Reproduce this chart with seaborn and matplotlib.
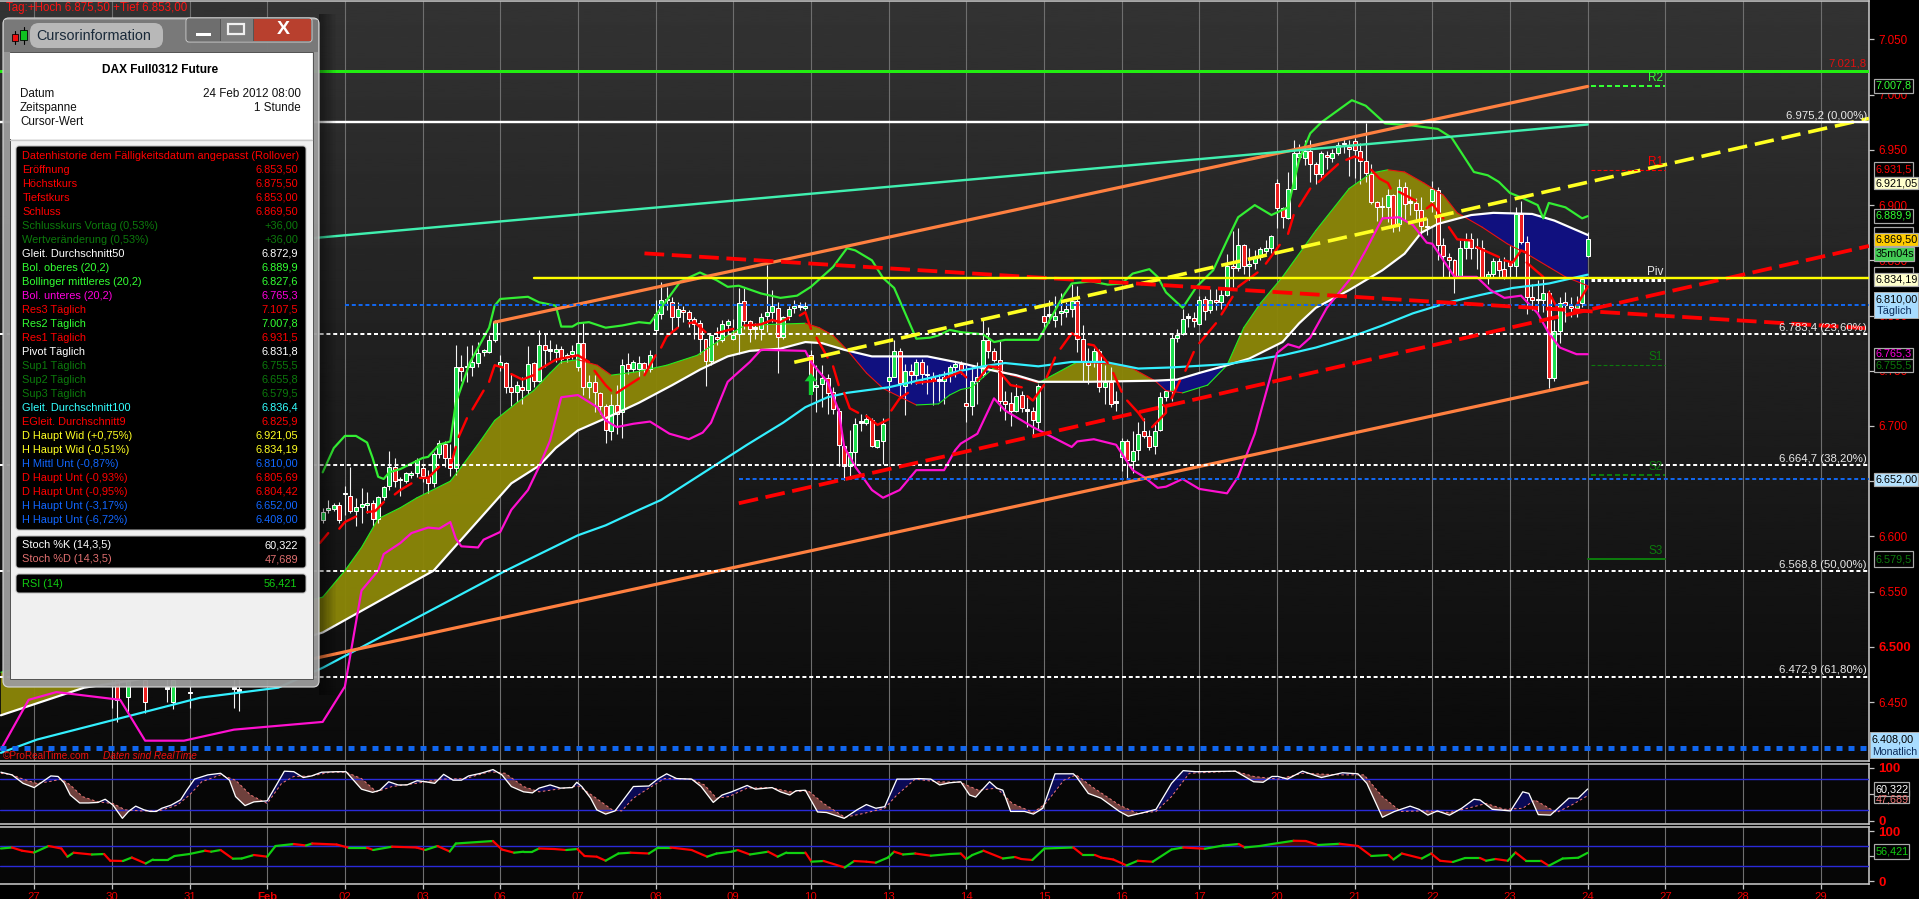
import numpy as np
import pandas as pd
import seaborn as sns
import matplotlib
matplotlib.use("Agg")
import matplotlib.pyplot as plt
from matplotlib.collections import LineCollection
from matplotlib.patches import Rectangle, FancyBboxPatch
from matplotlib.ticker import FixedLocator, FixedFormatter

# ---------- candles: bars 52 .. 280 (14 bars per day) ----------
opens = [6615,6624,6625,6628,6638,6637,6623,6627,6628,6630, 6616,6636,6646,6663,6651,6650,6656,6657,6662,6654,
 6648,6675,6684,6671,6662,6753,6753,6753,6757,6767, 6767,6778,6754,6757,6735,6731,6735,6733,6757,6741,
 6773,6768,6767,6770,6762,6765,6753,6775,6735,6740, 6730,6718,6695,6719,6713,6756,6752,6752,6757,6752,
 6787,6801,6814,6812,6799,6805,6803,6797,6793,6779, 6759,6781,6778,6791,6779,6783,6813,6795,6788,6788,
 6800,6803,6807,6781,6800,6807,6808,6807,6764,6735, 6738,6743,6731,6714,6682,6664,6676,6703,6703,6705,
 6681,6686,6741,6744,6768,6736,6750,6746,6758,6746, 6744,6741,6741,6746,6753,6756,6721,6718,6741,6747,
 6778,6768,6760,6723,6721,6714,6728,6714,6714,6704, 6800,6800,6796,6802,6803,6806,6813,6779,6759,6759,
 6768,6735,6740,6721,6672,6686,6668,6678,6695,6691, 6682,6696,6726,6732,6780,6783,6798,6798,6792,6815,
 6805,6814,6812,6819,6845,6843,6864,6845,6848,6853, 6858,6861,6920,6897,6888,6915,6944,6943,6949,6937,
 6928,6945,6943,6947,6955,6953,6958,6949,6940,6928, 6903,6898,6898,6909,6883,6916,6902,6902,6896,6880,
 6904,6914,6864,6853,6850,6835,6861,6869,6862,6861, 6834,6838,6849,6842,6849,6845,6892,6867,6817,6814,
 6814,6820,6743,6786,6812,6809,6807,6811,6853.5]
highs = [6626,6633,6630,6631,6646,6663,6635,6644,6640,6633, 6637,6646,6677,6671,6654,6658,6659,6671,6665,6660,
 6676,6687,6686,6684,6773,6764,6772,6773,6776,6770, 6782,6796,6764,6758,6747,6741,6744,6772,6758,6787,
 6784,6778,6774,6772,6766,6773,6784,6793,6746,6746, 6731,6720,6729,6737,6761,6766,6760,6763,6758,6769,
 6814,6830,6826,6817,6812,6809,6805,6799,6796,6779, 6782,6790,6796,6797,6797,6825,6825,6796,6793,6802,
 6846,6823,6812,6800,6809,6814,6812,6812,6769,6755, 6755,6747,6735,6716,6682,6696,6707,6711,6711,6707,
 6687,6707,6764,6778,6771,6756,6756,6761,6761,6755, 6749,6747,6750,6755,6758,6759,6755,6753,6758,6796,
 6790,6771,6777,6732,6731,6738,6732,6726,6717,6738, 6809,6814,6818,6820,6812,6829,6827,6791,6771,6771,
 6770,6755,6753,6732,6689,6688,6695,6704,6707,6696, 6704,6731,6732,6784,6788,6806,6802,6803,6818,6818,
 6824,6824,6826,6856,6877,6879,6865,6861,6859,6862, 6868,6873,6924,6898,6930,6959,6955,6959,6959,6939,
 6949,6949,6951,6957,6960,6959,6961,6956,6974,6937, 6904,6907,6915,6910,6924,6921,6915,6906,6907,6888,
 6922,6916,6870,6857,6851,6868,6875,6875,6870,6868, 6840,6852,6852,6853,6863,6898,6904,6872,6829,6832,
 6833,6823,6796,6817,6821,6817,6818,6836,6875.5]
lows = [6612,6621,6623,6612,6619,6621,6609,6612,6621,6609, 6612,6633,6642,6645,6637,6648,6653,6654,6649,6639,
 6645,6671,6663,6655,6656,6741,6740,6745,6753,6763, 6766,6776,6750,6730,6718,6722,6720,6729,6735,6740,
 6753,6760,6758,6757,6758,6761,6750,6728,6725,6713, 6711,6685,6687,6693,6689,6747,6749,6745,6746,6749,
 6783,6797,6805,6785,6790,6794,6790,6779,6765,6736, 6755,6773,6776,6784,6778,6765,6788,6776,6779,6778,
 6785,6794,6748,6779,6796,6802,6805,6805,6729,6713, 6717,6711,6711,6664,6651,6654,6664,6695,6701,6681,
 6680,6666,6731,6744,6726,6710,6738,6738,6738,6729, 6719,6723,6720,6740,6744,6747,6704,6710,6720,6744,
 6762,6758,6714,6705,6700,6713,6713,6699,6692,6696, 6787,6793,6790,6791,6799,6799,6767,6741,6738,6753,
 6731,6720,6717,6714,6659,6652,6657,6669,6689,6678, 6675,6695,6723,6723,6776,6782,6790,6790,6791,6796,
 6802,6805,6806,6818,6826,6840,6838,6832,6842,6850, 6856,6857,6879,6879,6887,6915,6940,6936,6921,6919,
 6925,6933,6939,6945,6947,6926,6925,6919,6921,6901, 6886,6888,6885,6876,6877,6886,6891,6886,6873,6873,
 6894,6850,6835,6835,6820,6835,6851,6851,6842,6834, 6829,6835,6835,6833,6835,6835,6865,6801,6805,6803,
 6803,6734,6741,6775,6794,6799,6799,6808,6853]
closes = [6622,6625,6628,6615,6639,6623,6627,6629,6630,6616, 6636,6645,6663,6650,6651,6657,6657,6669,6655,6648,
 6675,6685,6671,6662,6753,6750,6753,6758,6766,6768, 6778,6794,6758,6735,6731,6737,6733,6756,6741,6773,
 6769,6768,6770,6761,6764,6768,6775,6735,6740,6731, 6718,6696,6719,6711,6755,6752,6758,6757,6752,6764,
 6801,6814,6814,6799,6806,6803,6797,6792,6779,6759, 6782,6779,6792,6795,6782,6811,6795,6788,6788,6799,
 6803,6809,6781,6799,6806,6809,6808,6809,6732,6737, 6743,6730,6715,6683,6664,6676,6702,6703,6706,6682,
 6687,6702,6744,6768,6739,6750,6746,6758,6747,6746, 6741,6741,6744,6753,6756,6751,6718,6741,6744,6778,
 6768,6760,6723,6720,6714,6727,6716,6714,6705,6736, 6794,6800,6800,6804,6806,6813,6779,6759,6755,6768,
 6735,6740,6720,6721,6686,6669,6677,6693,6691,6681, 6695,6726,6732,6780,6782,6797,6798,6795,6814,6804,
 6814,6812,6819,6845,6843,6864,6845,6847,6853,6860, 6861,6872,6897,6889,6915,6947,6947,6949,6937,6928,
 6947,6944,6947,6954,6955,6951,6950,6940,6929,6903, 6898,6898,6909,6882,6916,6901,6902,6896,6881,6880,
 6915,6864,6854,6850,6835,6861,6868,6861,6861,6835, 6838,6849,6841,6834,6845,6892,6867,6817,6814,6814,
 6820,6743,6786,6811,6810,6807,6810,6833,6869.5]
# a few bars seen under the lower edge of the window
early_bar = [14,15,17,20,24,25,28,36,37]
early_open = [6466,6470,6455,6470,6462,6450,6458,6462,6460]
early_high = [6480,6480,6476,6478,6478,6473,6470,6480,6482]
early_low = [6445,6432,6440,6440,6450,6444,6445,6445,6442]
early_close = [6466,6452,6472,6450,6462,6470,6458,6462,6460]

# ---------- indicators (bar, price) ----------
sma50_x = [-6,9,30,52,72,86,91,94,98,103,109,115,120,125,129,134.5,139,142,146,151,161,167,173,177,181,188,190,202,206,210,215,219,225,228,231,237,243,247,250,253,259,263,270,274,280]
sma50_y = [6438,6463,6479,6513,6569,6648,6664,6680,6696,6707,6721,6737,6751,6763,6768,6770,6776,6775,6769,6763,6763,6757,6750,6746,6740,6740,6740,6741,6742,6748,6755,6761,6776,6793,6807,6823,6841,6856,6875,6883,6891,6893,6892,6886,6873]
sma100_x = [-6,0.5,30,44,52,85,98,103,109,113,122,128.5,135,139,143,146.5,154,161,167,171,175,181,187,193,199,205,215,225,231,237,243,248.5,255,261,266.5,273,280]
sma100_y = [6404,6416,6454,6463,6481,6569,6601,6610,6624,6633,6662,6683,6703,6717,6726,6730,6735,6743,6750,6754,6757,6754,6758,6758,6752,6753,6756,6764,6771,6780,6791,6802,6812,6819,6825,6829,6837]
boll_up_x = [52,54,56,58,60,61,62,63,64,66,68,70,71,73,75,76,78.5,82,83,84,89,91,94,95,97,98,100,103,106,109,111,113,116.5,120,123,125,127,131,134.5,137.5,140,144,146.5,148,151,153,155,157,159,161.5,163,165,167,171,173,175,181,182.5,185.5,187,190.5,193.5,196,198,201,202.5,204,207,209.5,212.5,215,217,220,223,226,228,230,232,237.5,240,243.5,248.5,253,255.5,259.5,262,264,266,268,271,272,273,276,279,280]
boll_up_y = [6658,6680,6691,6691,6685,6671,6654,6652,6658,6661,6666,6671,6672,6683,6686,6721,6757,6789,6809,6815,6817,6812,6809,6790,6790,6793,6794,6789,6791,6794,6793,6807,6831,6839,6832,6826,6827,6820,6816,6818,6826,6844,6861,6859,6850,6834,6825,6802,6779,6780,6782,6787,6785,6783,6776,6778,6778,6791,6818,6829,6831,6828,6829,6838,6842,6835,6821,6807,6826,6841,6868,6889,6900,6891,6898,6941,6965,6975,6995,6990,6974,6972,6969,6961,6930,6927,6921,6911,6907,6900,6888,6902,6898,6888,6890]
boll_lo_x = [-6,-1,4,15.5,20,27,36,52,56,59,62,63,66,68,71,73,75,76,77,80,81,84,86,89,91,93,95,98,101.5,103,105,108,111,114.5,118,120.5,122,125,129,131,139,140,143,145,146,148,151,153,156,159,164,166,167,170,173,175,180,187,188,191,195,198,200,202.5,204,207,210,215,217,220,224,226,228,230,233,237,240,243,246,248.5,251,252,256,260,262.5,265,268,271,273,275,278,280]
boll_lo_y = [6407,6452,6459,6452,6415,6415,6425,6432,6464,6551,6569,6584,6594,6603,6608,6607,6613,6598,6591,6590,6597,6604,6624,6642,6663,6687,6726,6728,6717,6705,6699,6702,6704,6693,6688,6694,6703,6740,6758,6769,6768,6758,6740,6714,6681,6663,6642,6635,6642,6660,6660,6678,6684,6693,6725,6714,6699,6681,6686,6688,6683,6660,6654,6644,6645,6652,6643,6639,6654,6693,6766,6774,6771,6780,6807,6832,6859,6888,6889,6882,6866,6865,6835,6835,6823,6816,6818,6802,6784,6771,6765,6765]
boll_mid_x = [-6,52,56,59,62,66,69,75,77,80.5,83,87,90,93,95,98,101.5,104,108.5,114,119.5,124,128,133,139,141.5,144,146.5,150,153,159,163,165,167,169,171,173,176,181,188,194.5,198,202,204,207,211.5,215,218,221,225,231,237,241,244,247,250.5,254,256.5,261,265.5,269,273,276,280]
boll_mid_y = [6477,6545,6569,6590,6616,6626,6635,6650,6663,6687,6705,6721,6732,6748,6758,6760,6755,6746,6749,6755,6764,6779,6791,6792,6793,6789,6782,6769,6748,6734,6719,6720,6728,6733,6735,6744,6753,6746,6739,6758,6756,6752,6741,6732,6730,6737,6755,6789,6811,6835,6877,6915,6929,6932,6930,6920,6909,6893,6880,6865,6856,6844,6835,6827]
ema_x = [[51.5,53],[55,56,58],[60,61.5,63],[65,66,68],[69.5,71,73],[75,76],[76.5,78],[79,81],[82,83,84.5],[86,88,90],[91,94,98,100],[101,103,104],[105,109],[110,112],[113,114,116],[118,119,121],[123,126],[128,131,133,134.5,136],[138,139,140],[141,143],[144,145],[146,147,148.5],[150,152,154],[154.5,156,157.5],[159,162.5],[164,167,168],[170,172,174],[174,176,178],[179,180,181,182],[182.5,184],[185,187,188.5],[190,191,193.5],[194.5,196],[197,199,200],[201.5,204,204,203.5],[205,206.5],[207.5,209],[210,213],[214,216],[217,220.5],[222,224.5],[226,227],[228,230],[231.5,235],[236.5,238,239.5],[241,242.5,244,244.5],[246,249],[251,252,254],[255,256.5,259],[260,264],[265,266.5,268,269],[269,272],[273,274.5],[278,280]]
ema_y = [[6594,6603],[6607,6613,6618],[6622,6623,6631],[6638,6642,6648],[6653,6653,6663],[6663,6681],[6690,6707],[6715,6732],[6740,6755,6753],[6747,6742,6746],[6751,6760,6764,6758],[6750,6737,6732],[6730,6743],[6746,6764],[6771,6781,6789],[6793,6794,6785],[6784,6788],[6791,6792,6796,6794,6798],[6800,6803,6788],[6780,6762],[6754,6737],[6730,6716,6712],[6709,6701,6706],[6714,6725,6730],[6739,6741],[6743,6749,6744],[6741,6754,6753],[6749,6737,6735],[6727,6723,6730,6737],[6744,6762],[6770,6784,6780],[6774,6773,6757],[6748,6731],[6723,6712,6705],[6699,6712,6717,6719],[6725,6741],[6750,6767],[6775,6793],[6801,6817],[6826,6839],[6847,6864],[6874,6891],[6899,6915],[6921,6937],[6941,6944,6941],[6932,6924,6920,6915],[6912,6904],[6897,6901,6888],[6880,6869,6868],[6862,6853],[6850,6848,6859,6857],[6848,6835],[6821,6807],[6809,6826]]

stoch_k_x = [-6,-4,-2,0,1.5,3,4.3,5.4,6.5,8.2,9.8,11.5,12.8,14.2,15.9,17,18.3,19.8,20.9,22,23,24.7,26.4,27.5,28.9,31.3,33.6,35.2,36.3,38,39.6,42,43.5,45.1,46.8,48.5,50,51.8,54.5,56.2,57.3,59,61,62.3,63.9,65.6,67.2,69,70.5,72.2,73.8,75.5,77,78.3,80.5,82.7,84.3,86,88.2,89.8,91,93,94.8,97,97.8,98.7,100.3,101.4,103,104.7,108,110.8,112.5,114,115.8,118.5,120.2,122.4,124,125.7,128.5,130,133,134.5,136.2,137.3,139,141.2,142.8,146,148.3,150,151.7,153.3,155.5,157.7,159.4,161.6,163.2,165,167,168.6,169.7,170.8,172.2,173.5,174.6,176,178.5,180.1,181.8,184,187.3,187.8,190,192.3,195.6,197.2,200,202.2,205,207.1,209.4,216.5,219.8,221.5,223.1,224.2,225.9,228.6,232,235.8,238.6,240.2,243,245.2,248,249.6,251.2,252.9,255.1,257.3,259.5,260.6,262.8,266.1,268.3,269.4,271.1,273.3,276.6,278.3,280]
stoch_k_y = [92,87,71,63,74,85,84,72,49,34,34,35,41,30,5,18,28,21,18,18,24,30,40,58,79,87,90,77,46,29,36,38,65,94,93,82,85,92,93,93,80,60,54,58,74,68,68,76,74,71,88,77,77,85,90,97,87,65,55,53,62,68,62,63,73,65,43,21,13,19,65,66,80,89,80,79,65,35,49,55,67,60,63,55,49,57,58,17,16,5,21,31,24,27,79,79,80,79,68,72,74,49,45,58,74,62,58,18,18,13,24,89,89,84,52,43,18,9,16,22,71,95,93,94,74,73,84,84,79,94,82,91,89,71,7,18,28,22,11,19,11,24,41,39.6,22,19,55,52,12,11,43,43,60.3]
stoch_d_x = [-6,-4,-2,0.4,2.6,4.9,6.5,8.7,11.5,14.2,16.4,19.2,22.5,25.8,28,30.2,33.6,36.3,39,42,44.6,46.8,50,53.4,56.2,59,61.7,64.5,68.9,73.3,77.7,82.1,84.9,88.2,91,94.3,98.1,100.9,104.2,105.9,108,110.8,113.6,118.5,120.8,123,125.2,128.5,132.9,136.2,139.5,142.3,146.1,149.4,153.3,155.5,158.8,162.7,166.9,170.2,173.5,176.3,180.1,182.3,185.6,187.8,190.6,195.6,198.9,202.2,205,208.2,216.5,219.8,224.2,228.6,235.3,239.7,243,246.3,250.7,255.1,258.4,261.7,265,268.3,270.5,274.4,277.1,280]
stoch_d_y = [90,87,79,71,74,79,68,46,36,33,21,19,19,30,49,74,87,77,49,33,71,84,85,92,92,80,55,65,71,79,80,93,90,65,55,60,66,46,21,19,43,62,80,79,68,43,46,62,63,55,57,33,7,14,24,49,79,74,73,58,62,33,16,33,77,87,65,30,14,18,46,90,94,84,79,90,87,87,46,18,19,16,24,33,22,24,39.6,16,30,47.7]
rsi_x = [-6,-4,-2.2,0,2.6,4.9,6,7.1,10.4,12.6,13.7,16,17.6,20.1,21.4,24.2,25.3,28,30.8,31.9,33.6,35.8,37.4,39.6,42,43.5,46.8,49,50.1,54.5,56.7,60,61.1,64.5,68.9,70.5,72.7,74.9,76,82.7,84.3,86.5,88.2,89.8,91,93.7,95.9,97.9,99.2,101.4,103,105.3,107.5,110.8,112.5,114.7,118.5,121.3,123,125.7,126.8,129,132.3,134,135.6,139,140.1,142.3,146.1,147.8,150,151.7,153.9,155,156.6,158.8,161.6,165,167,168,169.1,171.1,174.6,176.8,177.9,179.9,182.1,187.3,189,191.2,192.3,194.5,196.9,198.9,201.6,205,207.1,211,214.3,217.1,218.2,220.9,223.1,227,229.2,231.4,235.3,238.6,241,244.1,245,246.5,250.1,251.8,253.4,255.7,257.9,260.6,261.7,263.4,265.6,267,268.9,271.6,273,275.5,278.3,280]
rsi_y = [65,67,60.6,57,70,65,48.6,56.6,53,54,40.6,40,47,35,43,43,50,54,60.6,58.6,62,44.6,45,52,48.6,70,74,71,75,73,66.6,66.6,62,68.6,67,62,70,59,75,80,63,56.6,58.6,58.6,65,64,62,64,50,48.6,40.6,55,56.6,55,67,67,62,48.6,55,58.6,62,53,58.6,48.6,57,57,38.6,40,27,40,38.6,36.6,47,58.6,53,55,50.6,54,55,44,52,60.6,45,48,44,42,65,67,52,52,47,43,31,40.5,38.5,63,67,64.5,71,74,67,70,74,80.5,80,72,74.5,70,50,52,43,55,45,55,40.5,38,46,46,40.5,44,40.5,57,40.5,40.5,30.5,45,46.5,56.4]

# ---------- levels ----------
day_labels = ["27","30","31","Feb","02","03","06","07","08","09","10","13","14","15","16","17","20","21","22","23","24","27","28","29"]
price_ticks = [6450,6500,6550,6600,6650,6700,6750,6800,6850,6900,6950,7000,7050]
price_tick_labels = ["6.450","6.500","6.550","6.600","6.650","6.700","6.750","6.800","6.850","6.900","6.950","7.000","7.050"]
fib_levels = [6975.2,6783.4,6664.7,6568.8,6472.9]
fib_labels = ["6.975,2 (0,00%)","6.783,4 (23,60%)","6.664,7 (38,20%)","6.568,8 (50,00%)","6.472,9 (61,80%)"]
pivot_names = ["R2","R1","Piv","S1","S2","S3"]
pivot_levels = [7007.8,6931.5,6831.8,6755.5,6655.8,6579.5]
pivot_colors = ["#33ff33","#ff0000","#ffffff","#0c7a0c","#0c7a0c","#0c7a0c"]
orange_up_x, orange_up_y = [83,280],[6794,7007.5]
orange_lo_x, orange_lo_y = [40,280],[6478,6739.6]
teal_x, teal_y = [50,280],[6870,6973]
yellow_x, yellow_y = [137,330.7],[6757.7,6978.5]
red_up_x, red_up_y = [127,330.7],[6630,6863]
red_dn_x, red_dn_y = [110,330.3],[6856.3,6788.5]

info_labels = ["Datenhistorie dem Fälligkeitsdatum angepasst (Rollover)","Eröffnung","Höchstkurs","Tiefstkurs","Schluss","Schlusskurs Vortag (0,53%)","Wertveränderung (0,53%)","Gleit. Durchschnitt50","Bol. oberes (20,2)","Bollinger mittleres (20,2)","Bol. unteres (20,2)","Res3 Täglich","Res2 Täglich","Res1 Täglich","Pivot Täglich","Sup1 Täglich","Sup2 Täglich","Sup3 Täglich","Gleit. Durchschnitt100","EGleit. Durchschnitt9","D Haupt Wid (+0,75%)","H Haupt Wid (-0,51%)","H Mittl Unt (-0,87%)","D Haupt Unt (-0,93%)","D Haupt Unt (-0,95%)","H Haupt Unt (-3,17%)","H Haupt Unt (-6,72%)"]
info_values = ["","6.853,50","6.875,50","6.853,00","6.869,50","+36,00","+36,00","6.872,9","6.889,9","6.827,6","6.765,3","7.107,5","7.007,8","6.931,5","6.831,8","6.755,5","6.655,8","6.579,5","6.836,4","6.825,9","6.921,05","6.834,19","6.810,00","6.805,69","6.804,42","6.652,00","6.408,00"]
R,DG,W,LG,M,C,Y,B = "#ff0000","#0c7a0c","#ffffff","#33ff33","#ff00dd","#33ffff","#ffff22","#1166ff"
info_colors = [R,R,R,R,R,DG,DG,W,LG,LG,M,R,LG,R,W,DG,DG,DG,C,R,Y,Y,B,R,R,B,B]

# ---------- figure ----------
sns.set_theme(style="dark", rc={"axes.facecolor":"#060606","figure.facecolor":"#000000"})
plt.rcParams["font.family"] = ["Liberation Sans","DejaVu Sans"]
W_PX, H_PX = 1919, 899
fig = plt.figure(figsize=(W_PX/100, H_PX/100), dpi=100)
def panel(top, bottom):
    return fig.add_axes([0, 1-bottom/H_PX, 1869/W_PX, (bottom-top)/H_PX])
ax = panel(0.5, 761)
ax_s = panel(764, 824)
ax_r = panel(827, 883.7)
XMIN, XMAX = -6.16, 330.71
px = 0.72  # one pixel in points

def line(a, x, y, color, lw_px, z=5, **kw):
    sns.lineplot(x=np.asarray(x,float), y=np.asarray(y,float), ax=a, color=color, linewidth=lw_px*px,
                 sort=False, estimator=None, errorbar=None, legend=False, zorder=z, **kw)

def slope_line(a, x, y, up, down, lw_px, z=5):
    x, y = np.asarray(x,float), np.asarray(y,float)
    segs = np.stack([np.column_stack([x[:-1],y[:-1]]), np.column_stack([x[1:],y[1:]])], axis=1)
    cols = [up if d >= 0 else down for d in np.diff(y)]
    a.add_collection(LineCollection(segs, colors=cols, linewidths=lw_px*px, zorder=z, capstyle="round"))

# gradient background
grad = np.linspace(0.2, 0.04, 256).reshape(-1,1)
ax.imshow(grad, aspect="auto", cmap="gray", vmin=0, vmax=1, extent=[XMIN,XMAX,6396.6,7085.3], zorder=0)

# day grid
for a in (ax, ax_s, ax_r):
    for i in range(len(day_labels)):
        a.axvline(14*i, color="#6e6e6e", lw=1.1*px, zorder=1)

# cloud between SMA50 and Bollinger middle
gx = np.unique(np.concatenate([np.linspace(-6,280,1145), sma50_x, boll_mid_x]))
wy, my = np.interp(gx, sma50_x, sma50_y), np.interp(gx, boll_mid_x, boll_mid_y)
ax.fill_between(gx, wy, my, where=my>=wy, interpolate=True, color="#8a8508", lw=0, zorder=2, alpha=.97)
ax.fill_between(gx, wy, my, where=my<wy, interpolate=True, color="#10107f", lw=0, zorder=2)

# candles
bars = np.arange(52, 52+len(opens))
x_all = np.concatenate([early_bar, bars])
o = np.array(list(early_open)+opens,float); h = np.array(list(early_high)+highs,float)
l = np.array(list(early_low)+lows,float); c = np.array(list(early_close)+closes,float)
ax.vlines(x_all, l, h, color="#f4f4f4", lw=1.1*px, zorder=3)
col = np.where(c>o, "#1fe04f", np.where(c<o, "#f02020", "#ffffff"))
ax.bar(x_all, np.maximum(np.abs(c-o),1.4), bottom=np.minimum(o,c), width=.72, color=col,
       edgecolor="#ffffff", linewidth=1.0*px, zorder=4)

# indicators
slope_line(ax, boll_mid_x, boll_mid_y, "#22ee22", "#ee1111", 1.1)
line(ax, sma50_x, sma50_y, "#ffffff", 2.2)
line(ax, sma100_x, sma100_y, "#33f0ff", 2.2)
line(ax, boll_up_x, boll_up_y, "#33ee33", 2.2)
line(ax, boll_lo_x, boll_lo_y, "#ff10d0", 2.2)
for ex, ey in zip(ema_x, ema_y):
    line(ax, ex, ey, "#ff0000", 2.4, z=6)

# trend lines
line(ax, orange_up_x, orange_up_y, "#ff8040", 3.2, z=6)
line(ax, orange_lo_x, orange_lo_y, "#ff8040", 3.2, z=6)
line(ax, teal_x, teal_y, "#40f0b0", 2.4, z=6)
line(ax, yellow_x, yellow_y, "#ffff22", 3.6, z=7, linestyle=(0,(5.4,2.2)))
line(ax, red_up_x, red_up_y, "#ff0000", 3.8, z=7, linestyle=(0,(5.2,2.0)))
line(ax, red_dn_x, red_dn_y, "#ff0000", 3.8, z=7, linestyle=(0,(5.2,2.0)))

# horizontal levels
dots = (0,(2.0,1.4))
line(ax, [XMIN,XMAX],[7021.8,7021.8], "#22ee11", 3, z=7)
line(ax, [XMIN,XMAX],[6975.2,6975.2], "#ffffff", 2.4, z=7)
line(ax, [90,XMAX],[6834.19,6834.19], "#ffff00", 2.4, z=7)
line(ax, [56,XMAX],[6810,6810], "#1166ee", 2, z=6, linestyle=dots)
line(ax, [127,XMAX],[6652,6652], "#1166ee", 2, z=6, linestyle=dots)
line(ax, [XMIN,XMAX],[6408,6408], "#1166ee", 5, z=6, linestyle=(0,(1.2,1.2)))
for lev in fib_levels[1:]:
    line(ax, [XMIN,XMAX],[lev,lev], "#ffffff", 2, z=6, linestyle=dots)
for lev, lab in zip(fib_levels, fib_labels):
    ax.text(XMAX-0.4, lev+1.2, lab, color="#e8e8e8", fontsize=8.2, ha="right", va="bottom", zorder=8)
ax.text(XMAX-0.5, 7023.5, "7.021,8", color="#e01010", fontsize=8.2, ha="right", va="bottom", zorder=8)

# daily pivots
piv_style = [dict(lw_px=2,linestyle=(0,(2.5,1.5))), dict(lw_px=1.1,linestyle=(0,(3.5,2))), dict(lw_px=3,linestyle=(0,(1.2,.8))),
             dict(lw_px=1.1,linestyle=(0,(3.5,2))), dict(lw_px=2,linestyle=(0,(2.5,1.5))), dict(lw_px=2,linestyle="-")]
for name, lev, colr, st in zip(pivot_names, pivot_levels, pivot_colors, piv_style):
    st = dict(st); lw_ = st.pop("lw_px")
    line(ax, [280.6 if name!="S3" else 280, 294],[lev,lev], colr, lw_, z=7, **st)
    ax.text(293.6, lev+1.8, name, color=colr if name!="Piv" else "#e8e8e8", fontsize=8.5, ha="right", va="bottom", zorder=8)

# entry arrow
ax.annotate("", xy=(140,6748), xytext=(140,6728),
            arrowprops=dict(facecolor="#0fd02f", edgecolor="#0fd02f", width=3, headwidth=9, headlength=6, lw=0), zorder=8)

# stochastics
gs = np.unique(np.concatenate([np.linspace(-6,280,1145), stoch_k_x, stoch_d_x]))
ky, dy = np.interp(gs, stoch_k_x, stoch_k_y), np.interp(gs, stoch_d_x, stoch_d_y)
ax_s.fill_between(gs, ky, dy, where=ky>=dy, interpolate=True, color="#0a0a55", lw=0, zorder=2)
ax_s.fill_between(gs, ky, dy, where=ky<dy, interpolate=True, color="#6e403c", lw=0, zorder=2)
for lev in (80,20):
    ax_s.axhline(lev, color="#2a2ad8", lw=1.4*px, zorder=3)
line(ax_s, stoch_d_x, stoch_d_y, "#ee7777", 1, z=4, linestyle=(0,(2.5,2.5)))
line(ax_s, stoch_k_x, stoch_k_y, "#ffffff", 1.3, z=5)

# RSI
gr = np.unique(np.concatenate([np.linspace(-6,280,1145), rsi_x]))
ry = np.interp(gr, rsi_x, rsi_y)
ax_r.fill_between(gr, ry, 70, where=ry>=70, interpolate=True, color="#4a0a08", lw=0, zorder=2)
for lev in (70,30):
    ax_r.axhline(lev, color="#2a2ad8", lw=1.4*px, zorder=3)
slope_line(ax_r, rsi_x, rsi_y, "#10d010", "#ff0000", 2.2, z=5)

# axes set-up
limits = {ax:(6396.6,7085.3), ax_s:(-5.7,107.5), ax_r:(-5.4,108)}
for a,(lo,hi) in limits.items():
    a.set_xlim(XMIN,XMAX); a.set_ylim(lo,hi)
    a.set_xlabel(""); a.set_ylabel("")
    a.grid(False)
    a.yaxis.tick_right()
    for s in a.spines.values():
        s.set_color("#c4c4c4"); s.set_linewidth(1.6*px); s.set_visible(True)
    a.spines["left"].set_visible(False)
    a.tick_params(axis="y", which="both", right=True, length=3.6, width=.9, color="#c4c4c4", labelcolor="#ff0000", pad=3, labelsize=8.4)
    a.tick_params(axis="x", bottom=False, labelbottom=False)
ax.yaxis.set_major_locator(FixedLocator(price_ticks))
ax.yaxis.set_major_formatter(FixedFormatter(price_tick_labels))
for t, s in zip(ax.get_yticklabels(), price_tick_labels):
    if s == "6.500":
        t.set_fontweight("bold"); t.set_fontsize(9.4)
for a, lab in ((ax_s,["0","","100"]),(ax_r,["0","","100"])):
    a.yaxis.set_major_locator(FixedLocator([0,50,100]))
    a.yaxis.set_major_formatter(FixedFormatter(lab))
    for t in a.get_yticklabels():
        t.set_fontweight("bold"); t.set_fontsize(9.6)
ax_r.xaxis.set_major_locator(FixedLocator([14*i for i in range(len(day_labels))]))
ax_r.xaxis.set_major_formatter(FixedFormatter(day_labels))
ax_r.tick_params(axis="x", bottom=True, labelbottom=True, length=3.6, width=.9, color="#c4c4c4", labelcolor="#ee0000", labelsize=8.2, pad=2.5)
for t, s in zip(ax_r.get_xticklabels(), day_labels):
    if s == "Feb":
        t.set_fontweight("bold")

# ---------- overlay in figure pixels ----------
ov = fig.add_axes([0,0,1,1], zorder=20, facecolor="none")
ov.set_xlim(0,W_PX); ov.set_ylim(H_PX,0); ov.axis("off")
def rect(x0,y0,x1,y1,fc,ec="none",lw=0,z=1,alpha=None):
    ov.add_patch(Rectangle((x0,y0),x1-x0,y1-y0,facecolor=fc,edgecolor=ec,linewidth=lw*px,zorder=z,alpha=alpha))
def round_box(x0,y0,x1,y1,fc,ec="none",lw=0,r=3,z=2,alpha=None):
    ov.add_patch(FancyBboxPatch((x0+r,y0+r),x1-x0-2*r,y1-y0-2*r,boxstyle=f"round,pad={r},rounding_size={r}",
                 facecolor=fc,edgecolor=ec,linewidth=lw*px,zorder=z,alpha=alpha))
def txt(x,y,s,color="#000000",fs=8.5,ha="left",z=6,**kw):
    ov.text(x,y,s,color=color,fontsize=fs,ha=ha,va="center",zorder=z,**kw)

txt(6,8,"Tag:+Hoch 6.875,50 +Tief 6.853,00","#ff1414",8.3)
txt(3,756,"©ProRealTime.com",  "#ee1010",7.2)
txt(103,756,"Daten sind RealTime","#ee1010",7.2, style="italic")

# window shadow to the right
for i in range(14):
    rect(319+i*1.2,14,320.2+i*1.2,695,"#000000",alpha=.45*(1-i/14))

# window frame
round_box(3,18,319,687,"#9b9b9b","#d8d8d8",1.2,r=6,alpha=.96)
rect(4,20,318,52,"#6a6a6a",alpha=.65,z=2)
round_box(30,23,163,48,"#c4c4c4",r=9,z=3,alpha=.85)
txt(36,35.5,"Cursorinformation","#1a2a3a",10.4)
rect(12,34,18,41,"#ee1010","#000000",.8,z=4); rect(20,30,27,40,"#10c020","#000000",.8,z=4)
ov.plot([23.5,23.5],[27,44],color="#000000",lw=.8,zorder=3); ov.plot([15,15],[31,44],color="#000000",lw=.8,zorder=3)
# caption buttons
round_box(186,18,312,42,"#555555","#cccccc",1,r=3,z=3)
rect(187,19,220,41,"#6e6e6e",z=4); rect(221,19,253,41,"#7e7e7e",z=4); rect(254,19,311,41,"#b8402e",z=4)
rect(196,33,211,36,"#ffffff",z=5)
rect(228,24,244,34,"none","#f0f0f0",2.2,z=5)
txt(283,30,"X","#ffffff",14,ha="center",fontweight="bold")

# window content
rect(9.5,52,312.5,679,"#f0f0f0","#555555",1,z=4)
rect(10,52.5,312,139,"#ffffff",z=4)
ov.plot([10,312],[139.5,139.5],color="#c8c8c8",lw=1,zorder=5)
txt(160,70,"DAX Full0312 Future","#000000",8.6,ha="center",fontweight="bold")
for y,a_,b_ in ((94,"Datum","24 Feb 2012 08:00"),(108,"Zeitspanne","1 Stunde"),(122,"Cursor-Wert","")):
    txt(20,y,a_,"#111111",8.4); txt(301,y,b_,"#111111",8.4,ha="right")
round_box(16,146,306,530,"#000000","#bbbbbb",1,z=5)
round_box(16,536,306,568,"#000000","#bbbbbb",1,z=5)
round_box(16,574,306,593,"#000000","#bbbbbb",1,z=5)
for i,(a_,b_,colr) in enumerate(zip(info_labels,info_values,info_colors)):
    y = 156+14*i
    txt(22.5,y,a_,colr,7.95); txt(298,y,b_,colr,7.95,ha="right")
txt(22.5,545,"Stoch %K (14,3,5)","#ffffff",7.95); txt(298,545,"60,322","#ffffff",7.95,ha="right")
txt(22.5,559,"Stoch %D (14,3,5)","#e07070",7.95); txt(298,559,"47,689","#e07070",7.95,ha="right")
txt(22.5,584,"RSI (14)","#11cc11",7.95); txt(297,584,"56,421","#11cc11",7.95,ha="right")

# right-hand value boxes
box_text = ["7.007,8","6.931,5","6.921,05","6.889,9","","6.869,50","35m04s","","6.834,19","6.765,3","6.755,5","6.652,00","6.579,5","47,689","60,322","56,421"]
box_fg = ["#33ff33",R,"#000000","#33ff33","#000000","#000000","#000000","#000000","#000000","#ff00dd","#0c7a0c","#000000","#0c7a0c","#ee7777","#ffffff","#11cc11"]
box_bg = ["#000000","#000000","#ffffcc","#000000","#000000","#ffcc00","#44cc55","#000000","#ffffcc","#000000","#000000","#b4e2ff","#000000","#000000","#000000","#000000"]
box_y0 = [79,162,177,209,227,233,247,267,273,348,359,473,551,790,782,844]
box_y1 = [93,177,189,223,239,246,261,280,286,359,372,486,567,803,796,859]
box_x1 = [1913,1913,1918,1913,1913,1918,1914,1913,1918,1913,1913,1918,1913,1909,1909,1909]
for t,fg,bg,y0,y1,x1 in zip(box_text,box_fg,box_bg,box_y0,box_y1,box_x1):
    rect(1874,y0,x1,y1,bg,"#aaaaaa",1.2,z=3)
    if t:
        txt(1875.5,(y0+y1)/2 if t!="47,689" else 799,t,fg,7.8,z=4)
rect(1874,292,1918,318,"#a8dcff","#aaaaaa",1,z=3)
txt(1875.5,299,"6.810,00","#000000",7.8); txt(1877,311,"Täglich","#0a2a5a",7.8)
rect(1870,732,1919,758,"#a8dcff","#aaaaaa",1,z=3)
txt(1872,739,"6.408,00","#000000",7.8); txt(1872,752,"Monatlich","#0a2a5a",7.6)

fig.savefig("out.png", dpi=100, facecolor="#000000")
